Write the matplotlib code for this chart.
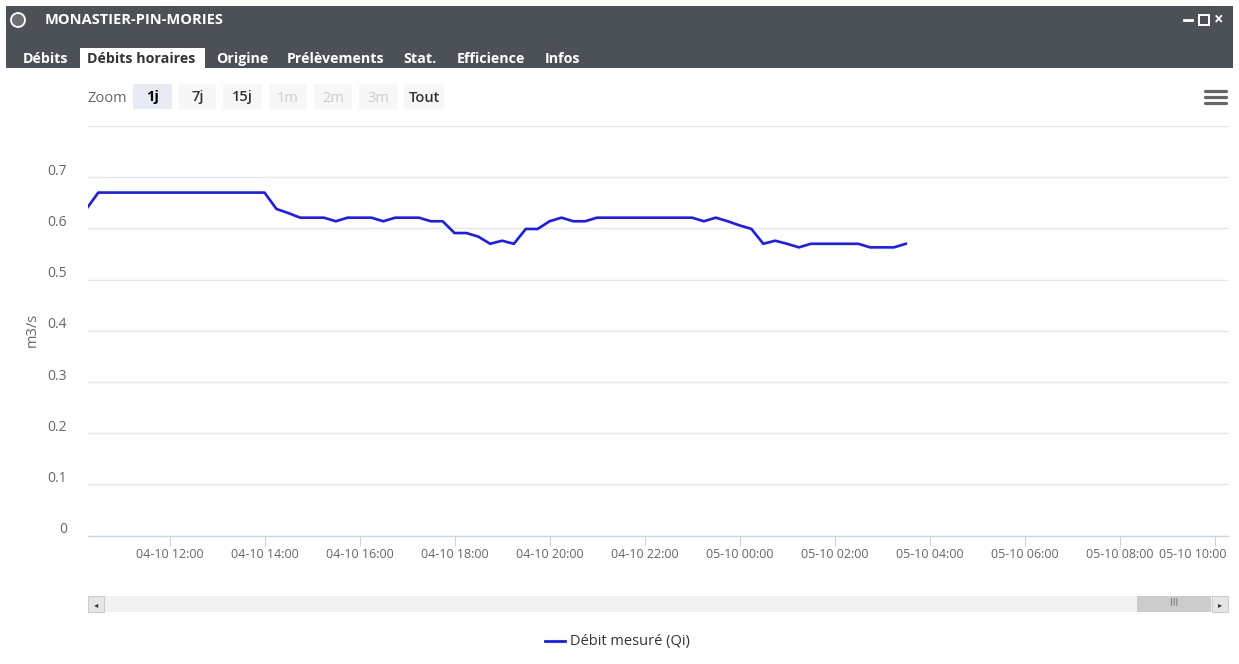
import matplotlib
matplotlib.use("Agg")
import matplotlib.pyplot as plt
import matplotlib.dates as mdates
import matplotlib.transforms as mtransforms
from matplotlib.patches import Rectangle, Circle
from matplotlib.lines import Line2D
import pandas as pd

# ---------------- data ----------------
station = "MONASTIER-PIN-MORIES"
tabs = ["Débits", "Débits horaires", "Origine", "Prélèvements", "Stat.", "Efficience", "Infos"]
zoom_buttons = ["1j", "7j", "15j", "1m", "2m", "3m", "Tout"]
series_name = "Débit mesuré (Qi)"
y_label = "m3/s"
start_time = "2023-10-04 10:15"   # first sample, 15-minute steps
debit = [
    0.638,                                                    # 10:15
    0.670, 0.670, 0.670, 0.670, 0.670, 0.670, 0.670, 0.670,   # 10:30-12:15
    0.670, 0.670, 0.670, 0.670, 0.670, 0.670, 0.670,          # 12:30-14:00
    0.638, 0.630, 0.621, 0.621, 0.621, 0.614, 0.621, 0.621,   # 14:15-16:00
    0.621, 0.614, 0.621, 0.621, 0.621, 0.614, 0.614, 0.591,   # 16:15-18:00
    0.591, 0.584, 0.570, 0.576, 0.570, 0.599, 0.599, 0.614,   # 18:15-20:00
    0.621, 0.614, 0.614, 0.621, 0.621, 0.621, 0.621, 0.621,   # 20:15-22:00
    0.621, 0.621, 0.621, 0.621, 0.614, 0.621, 0.614, 0.606,   # 22:15-00:00
    0.599, 0.570, 0.576, 0.570, 0.563, 0.570, 0.570, 0.570,   # 00:15-02:00
    0.570, 0.570, 0.563, 0.563, 0.563, 0.570,                 # 02:15-03:30
]
y_ticks = [0, 0.1, 0.2, 0.3, 0.4, 0.5, 0.6, 0.7, 0.8]
y_tick_labels = ["0", "0.1", "0.2", "0.3", "0.4", "0.5", "0.6", "0.7", ""]
view_start = "2023-10-04 10:17"
view_end = "2023-10-05 10:17"

times = pd.date_range(start_time, periods=len(debit), freq="15min")

# ---------------- figure ----------------
W, H = 1239, 664
DPI = 100
plt.rcParams['font.family'] = ['Open Sans', 'DejaVu Sans']
fig = plt.figure(figsize=(W / DPI, H / DPI), dpi=DPI)
fig.patch.set_facecolor("white")


def fx(x):
    return x / W


def fy(y):
    return 1 - y / H


def rect(x0, y0, x1, y1, fc, ec="none", lw=0, z=1):
    fig.add_artist(Rectangle((fx(x0), fy(y1)), fx(x1) - fx(x0), fy(y0) - fy(y1),
                             transform=fig.transFigure, facecolor=fc, edgecolor=ec,
                             linewidth=lw, zorder=z))


def text(x, y, s, **kw):
    fig.text(fx(x), fy(y), s, **kw)


# header bar
rect(6, 6, 1233, 68, "#4b5157")
fig.add_artist(Circle((18 / DPI, (H - 20) / DPI), 7 / DPI, transform=fig.dpi_scale_trans,
                      facecolor="#6d7176", edgecolor="white", linewidth=1.3, zorder=2))
text(45, 20, station, color="white", fontsize=10.5, fontweight="bold", va="center", ha="left")
fig.add_artist(Line2D([fx(1184), fx(1192)], [fy(20), fy(20)], transform=fig.transFigure,
                      color="white", linewidth=2))
fig.add_artist(Rectangle((fx(1199), fy(25)), 10 / W, 10 / H, transform=fig.transFigure,
                         facecolor="none", edgecolor="white", linewidth=1.4, zorder=2))
text(1219, 19.5, "×", color="white", fontsize=12, va="center", ha="center", fontweight="bold")

# tabs
tab_x = [23, 87, 216, 287, 403, 457, 545]
rect(80, 48, 205, 68, "white", z=2)
for i, (t, x) in enumerate(zip(tabs, tab_x)):
    col = "#333333" if i == 1 else "white"
    text(x, 63, t, color=col, fontsize=10.3, fontweight="bold", va="baseline", ha="left", zorder=3)

# range selector
text(87, 101.5, "Zoom", color="#666666", fontsize=10.5, va="baseline", ha="left")
btn_x = [(133, 172), (179, 216), (223, 262), (269, 307), (314, 352), (359, 397), (404, 444)]
for i, (lab, (x0, x1)) in enumerate(zip(zoom_buttons, btn_x)):
    if i == 0:
        fc, tc, fw = "#e6ebf5", "#000000", "bold"
    elif lab in ("1m", "2m", "3m"):
        fc, tc, fw = "#f7f7f7", "#cccccc", "normal"
    else:
        fc, tc, fw = "#f7f7f7", "#333333", 600
    rect(x0, 84, x1, 109, fc)
    text((x0 + x1) / 2, 101.5, lab, color=tc, fontsize=10.5, fontweight=fw, va="baseline", ha="center")

# hamburger menu
for yy in (91, 97, 103):
    fig.add_artist(Line2D([fx(1205), fx(1226)], [fy(yy), fy(yy)], transform=fig.transFigure,
                          color="#666666", linewidth=2.3, solid_capstyle="round"))

# ---------------- plot area ----------------
ax = fig.add_axes([fx(88), fy(535.7), fx(1228) - fx(88), fy(126) - fy(535.7)])
ax.set_facecolor("none")
ax.plot(times, debit, color="#1a1aff", linewidth=1.9, zorder=3, clip_on=True,
        solid_joinstyle="round")
ax.set_xlim(pd.Timestamp(view_start), pd.Timestamp(view_end))
ax.set_ylim(0, 0.8)
ax.set_yticks(y_ticks)
ax.set_yticklabels(y_tick_labels)
ax.yaxis.grid(True, color="#e6e6e6", linewidth=1.0)
ax.set_axisbelow(True)
for s in ("left", "right", "top"):
    ax.spines[s].set_visible(False)
ax.spines["bottom"].set_color("#ccd6eb")
ax.spines["bottom"].set_linewidth(1.0)
ax.spines["bottom"].set_zorder(4)

ax.xaxis.set_major_locator(mdates.HourLocator(byhour=range(0, 24, 2)))
ax.xaxis.set_major_formatter(mdates.DateFormatter("%d-%m %H:%M"))
ax.tick_params(axis="x", length=7.2, width=0.8, color="#ccd6eb", labelcolor="#666666",
               labelsize=9.0, pad=2)
ax.tick_params(axis="y", length=0, labelcolor="#666666", labelsize=10, pad=15)

up = mtransforms.ScaledTranslation(0, 8 / DPI, fig.dpi_scale_trans)
for lab in ax.get_yticklabels():
    lab.set_transform(lab.get_transform() + up)

fig.canvas.draw()
xlabels = ax.get_xticklabels()
if xlabels:
    last = xlabels[-1]
    last.set_horizontalalignment("right")
    last.set_transform(last.get_transform() +
                       mtransforms.ScaledTranslation(12 / DPI, 0, fig.dpi_scale_trans))

text(32, 330, y_label, color="#666666", fontsize=10.5, rotation=90, va="center", ha="center")

# ---------------- scrollbar ----------------
rect(88, 596, 1228, 612, "#f2f2f2", z=1)
rect(88, 596, 104, 612, "#e6e6e6", ec="#cccccc", lw=0.8, z=2)
rect(1212, 596, 1228, 612, "#e6e6e6", ec="#cccccc", lw=0.8, z=2)
rect(1137, 596, 1211, 612, "#cccccc", z=2)
text(96, 604.5, "◂", color="#333333", fontsize=6, va="center", ha="center", family=["DejaVu Sans"], zorder=3)
text(1220, 604.5, "▸", color="#333333", fontsize=6, va="center", ha="center", family=["DejaVu Sans"], zorder=3)
text(1174, 604, "III", color="#666666", fontsize=7, va="center", ha="center", zorder=3)

# ---------------- legend ----------------
fig.add_artist(Line2D([fx(545), fx(565)], [fy(641), fy(641)], transform=fig.transFigure,
                      color="#1a1aff", linewidth=2))
text(570, 641, series_name, color="#333333", fontsize=10.5, va="center", ha="left")

fig.savefig("out.png", dpi=DPI)
